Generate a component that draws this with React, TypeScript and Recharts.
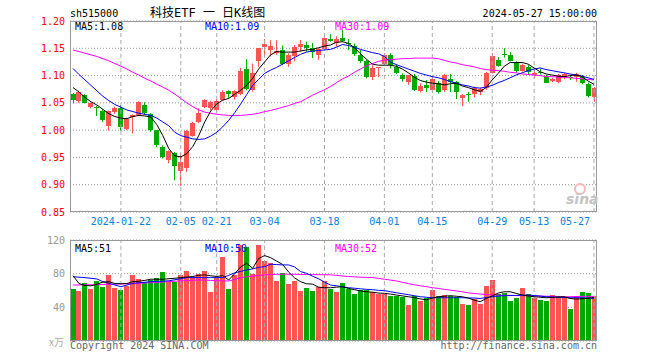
import React from "react";
import {
  Bar,
  CartesianGrid,
  ComposedChart,
  Line,
  ReferenceLine,
  XAxis,
  YAxis,
} from "recharts";

const YEAR = "2024";
const RED = "#fa5454";
const GREEN = "#00a800";
const FONT = "'DejaVu Sans Mono', monospace";

const days = [
  "01-10", "01-11", "01-12", "01-15", "01-16", "01-17", "01-18", "01-19",
  "01-22", "01-23", "01-24", "01-25", "01-26",
  "01-29", "01-30", "01-31", "02-01", "02-02",
  "02-05", "02-06", "02-07", "02-08",
  "02-19", "02-20",
  "02-21", "02-22", "02-23",
  "02-26", "02-27", "02-28", "02-29", "03-01",
  "03-04", "03-05", "03-06", "03-07", "03-08",
  "03-11", "03-12", "03-13", "03-14", "03-15",
  "03-18", "03-19", "03-20", "03-21", "03-22",
  "03-25", "03-26", "03-27", "03-28", "03-29",
  "04-01", "04-02", "04-03",
  "04-08", "04-09", "04-10", "04-11", "04-12",
  "04-15", "04-16", "04-17", "04-18", "04-19",
  "04-22", "04-23", "04-24", "04-25", "04-26",
  "04-29", "04-30",
  "05-06", "05-07", "05-08", "05-09", "05-10",
  "05-13", "05-14", "05-15", "05-16", "05-17",
  "05-20", "05-21", "05-22", "05-23", "05-24",
  "05-27",
];

const open = [
  1.066, 1.054, 1.064, 1.043, 1.042, 1.035, 1.007, 1.034, 1.040, 1.002,
  1.024, 1.028, 1.046, 1.029, 1.000, 0.970, 0.946, 0.959, 0.925, 0.931,
  0.990, 1.015, 1.043, 1.041, 1.037, 1.055, 1.071, 1.060, 1.066, 1.112,
  1.074, 1.126, 1.153, 1.147, 1.142, 1.147, 1.122, 1.135, 1.153, 1.156,
  1.150, 1.138, 1.148, 1.167, 1.160, 1.168, 1.160, 1.154, 1.138, 1.127,
  1.097, 1.113, 1.122, 1.138, 1.116, 1.101, 1.089, 1.100, 1.072, 1.083,
  1.073, 1.087, 1.073, 1.093, 1.089, 1.058, 1.066, 1.066, 1.070, 1.077,
  1.105, 1.129, 1.139, 1.138, 1.124, 1.109, 1.116, 1.101, 1.107, 1.098,
  1.090, 1.089, 1.097, 1.098, 1.097, 1.098, 1.085, 1.060,
];
const high = [
  1.068, 1.072, 1.066, 1.051, 1.044, 1.038, 1.036, 1.043, 1.046, 1.023,
  1.029, 1.053, 1.051, 1.031, 1.000, 0.972, 0.963, 0.960, 0.957, 1.000,
  1.015, 1.040, 1.057, 1.054, 1.057, 1.073, 1.073, 1.073, 1.114, 1.130,
  1.122, 1.150, 1.167, 1.165, 1.165, 1.155, 1.141, 1.156, 1.165, 1.162,
  1.160, 1.150, 1.170, 1.176, 1.172, 1.184, 1.167, 1.159, 1.147, 1.129,
  1.119, 1.115, 1.141, 1.141, 1.121, 1.104, 1.101, 1.103, 1.086, 1.092,
  1.101, 1.090, 1.103, 1.103, 1.090, 1.066, 1.070, 1.080, 1.078, 1.107,
  1.141, 1.134, 1.150, 1.143, 1.126, 1.122, 1.119, 1.110, 1.113, 1.101,
  1.096, 1.103, 1.105, 1.101, 1.105, 1.101, 1.087, 1.079,
];
const low = [
  1.049, 1.050, 1.049, 1.040, 1.026, 1.015, 0.999, 1.030, 0.999, 1.000,
  0.994, 1.026, 1.028, 0.997, 0.969, 0.948, 0.939, 0.908, 0.898, 0.923,
  0.988, 1.013, 1.040, 1.036, 1.035, 1.053, 1.058, 1.056, 1.064, 1.073,
  1.071, 1.116, 1.135, 1.135, 1.138, 1.119, 1.116, 1.126, 1.144, 1.144,
  1.132, 1.129, 1.147, 1.162, 1.153, 1.162, 1.147, 1.136, 1.123, 1.095,
  1.092, 1.097, 1.119, 1.113, 1.103, 1.089, 1.083, 1.072, 1.069, 1.070,
  1.069, 1.067, 1.070, 1.070, 1.057, 1.044, 1.052, 1.060, 1.064, 1.074,
  1.104, 1.116, 1.133, 1.126, 1.105, 1.107, 1.101, 1.095, 1.102, 1.086,
  1.088, 1.086, 1.093, 1.092, 1.089, 1.084, 1.060, 1.052,
];
const close = [
  1.055, 1.070, 1.050, 1.050, 1.041, 1.019, 1.035, 1.040, 1.006, 1.021,
  1.028, 1.051, 1.031, 1.000, 0.972, 0.950, 0.962, 0.934, 0.942, 0.999,
  1.013, 1.032, 1.055, 1.051, 1.053, 1.070, 1.067, 1.071, 1.109, 1.075,
  1.105, 1.150, 1.157, 1.155, 1.145, 1.121, 1.138, 1.153, 1.158, 1.150,
  1.144, 1.148, 1.168, 1.164, 1.167, 1.163, 1.158, 1.140, 1.126, 1.097,
  1.113, 1.115, 1.138, 1.119, 1.105, 1.093, 1.101, 1.073, 1.081, 1.077,
  1.093, 1.070, 1.101, 1.089, 1.069, 1.064, 1.064, 1.077, 1.075, 1.105,
  1.135, 1.118, 1.138, 1.127, 1.108, 1.119, 1.107, 1.104, 1.104, 1.087,
  1.094, 1.101, 1.103, 1.095, 1.103, 1.086, 1.062, 1.077,
];

const ma5 = [
  1.078, 1.070, 1.060, 1.052, 1.046, 1.038, 1.030, 1.025, 1.022, 1.021,
  1.025, 1.027, 1.026, 1.024, 1.010, 0.990, 0.966, 0.953, 0.951, 0.957,
  0.970, 0.990, 1.015, 1.035, 1.048, 1.055, 1.058, 1.066, 1.073, 1.082,
  1.095, 1.112, 1.125, 1.138, 1.144, 1.143, 1.143, 1.143, 1.145, 1.147,
  1.148, 1.151, 1.154, 1.156, 1.161, 1.162, 1.159, 1.151, 1.140, 1.130,
  1.121, 1.119, 1.119, 1.119, 1.117, 1.112, 1.105, 1.097, 1.091, 1.088,
  1.086, 1.085, 1.083, 1.085, 1.086, 1.081, 1.078, 1.074, 1.071, 1.078,
  1.092, 1.104, 1.117, 1.124, 1.124, 1.124, 1.121, 1.114, 1.107, 1.103,
  1.101, 1.099, 1.098, 1.100, 1.101, 1.098, 1.090, 1.084,
];
const ma10 = [
  1.113, 1.102, 1.092, 1.082, 1.072, 1.062, 1.054, 1.047, 1.042, 1.037,
  1.034, 1.031, 1.029, 1.027, 1.022, 1.015, 1.008, 0.996, 0.990, 0.987,
  0.984, 0.983, 0.984, 0.989, 0.996, 1.006, 1.018, 1.032, 1.048, 1.065,
  1.082, 1.093, 1.104, 1.110, 1.115, 1.121, 1.127, 1.133, 1.139, 1.143,
  1.145, 1.146, 1.147, 1.148, 1.152, 1.157, 1.155, 1.152, 1.148, 1.145,
  1.142, 1.140, 1.135, 1.125, 1.120, 1.116, 1.112, 1.108, 1.104, 1.101,
  1.098, 1.096, 1.093, 1.089, 1.086, 1.083, 1.081, 1.078, 1.077, 1.079,
  1.082, 1.087, 1.091, 1.096, 1.101, 1.105, 1.109, 1.112, 1.114, 1.111,
  1.109, 1.107, 1.105, 1.103, 1.101, 1.099, 1.096, 1.093,
];
const ma30 = [
  1.147, 1.144, 1.141, 1.138, 1.135, 1.131, 1.127, 1.122, 1.117, 1.112,
  1.106, 1.101, 1.095, 1.090, 1.084, 1.079, 1.073, 1.066, 1.058, 1.050,
  1.043, 1.037, 1.033, 1.031, 1.029, 1.028, 1.027, 1.027, 1.027, 1.028,
  1.029, 1.031, 1.034, 1.036, 1.039, 1.042, 1.045, 1.049, 1.052, 1.058,
  1.064, 1.069, 1.074, 1.080, 1.087, 1.094, 1.099, 1.106, 1.112, 1.118,
  1.122, 1.126, 1.128, 1.129, 1.130, 1.131, 1.131, 1.132, 1.132, 1.132,
  1.132, 1.131, 1.128, 1.125, 1.123, 1.120, 1.118, 1.116, 1.113, 1.111,
  1.110, 1.109, 1.108, 1.106, 1.105, 1.103, 1.102, 1.101, 1.100, 1.098,
  1.098, 1.097, 1.097, 1.096, 1.095, 1.094, 1.093, 1.092,
];

// 成交量 (万手)
const volume = [
  61.7, 59.3, 68.9, 61.7, 71.3, 64.1, 78.4, 62.9, 60.5, 65.3,
  78.4, 73.7, 69.7, 72.5, 74.5, 82.0, 70.5, 70.5, 78.4, 83.2,
  76.4, 79.6, 83.2, 58.1, 74.5, 99.9, 61.7, 78.4, 114.3, 111.1,
  79.6, 114.3, 95.2, 92.4, 71.3, 80.8, 67.7, 71.3, 59.3, 62.9,
  59.3, 64.1, 71.3, 61.7, 58.1, 68.9, 61.7, 55.8, 60.5, 60.5,
  58.1, 55.8, 55.8, 53.4, 53.4, 52.2, 42.6, 53.4, 47.4, 51.0,
  60.5, 53.4, 54.6, 53.4, 52.2, 43.8, 42.6, 49.8, 43.8, 65.3,
  72.5, 55.8, 57.0, 47.4, 51.0, 62.9, 55.8, 51.0, 48.6, 47.4,
  54.6, 53.4, 52.2, 37.8, 53.4, 58.1, 57.0, 53.4,
];
const volMa5 = [
  77.6, 68.3, 66.0, 65.5, 67.5, 70.0, 70.5, 68.3, 68.0, 68.3,
  70.6, 71.0, 72.0, 73.4, 73.4, 73.3, 74.0, 74.5, 75.3, 76.0,
  76.6, 78.0, 78.6, 77.5, 76.6, 77.6, 72.5, 80.0, 88.0, 92.4,
  86.4, 98.0, 101.5, 99.0, 95.0, 91.0, 82.0, 75.0, 70.5, 68.0,
  67.6, 64.0, 63.3, 63.3, 64.0, 64.5, 62.4, 61.0, 59.5, 58.5,
  58.0, 57.0, 56.6, 55.8, 54.6, 53.6, 52.6, 51.5, 50.0, 49.0,
  51.0, 52.6, 53.2, 53.8, 53.2, 52.6, 51.0, 48.6, 46.6, 50.6,
  53.5, 57.0, 58.5, 58.5, 56.6, 54.6, 53.6, 52.6, 52.0, 51.3,
  51.8, 52.2, 52.6, 50.5, 49.8, 50.2, 50.6, 51.6,
];
const volMa10 = [
  76.4, 75.8, 75.3, 74.5, 73.7, 70.5, 68.5, 66.5, 64.5, 66.5,
  68.5, 69.2, 69.8, 70.5, 70.8, 71.1, 71.5, 72.8, 74.0, 75.3,
  75.3, 75.3, 75.3, 75.3, 75.3, 75.3, 78.0, 81.0, 82.7, 84.4,
  85.7, 87.5, 88.4, 91.2, 90.8, 90.4, 90.4, 88.0, 82.5, 80.4,
  77.0, 74.0, 70.0, 66.5, 65.5, 64.5, 63.3, 62.7, 62.0, 61.4,
  61.0, 60.2, 59.8, 58.6, 57.4, 56.2, 55.0, 53.8, 52.6, 52.0,
  51.4, 51.4, 51.4, 51.4, 51.4, 51.4, 51.2, 51.0, 50.6, 51.6,
  52.6, 53.4, 53.8, 54.0, 54.2, 54.4, 54.6, 54.0, 53.4, 52.6,
  52.3, 52.0, 51.7, 51.4, 51.4, 51.2, 51.0, 50.8,
];
const volMa30 = [
  66.5, 66.6, 66.7, 66.8, 66.9, 67.2, 67.4, 67.6, 67.8, 68.0,
  68.3, 68.6, 68.9, 69.2, 69.5, 70.0, 70.6, 71.0, 71.4, 71.8,
  72.2, 72.5, 72.3, 72.0, 71.6, 71.4, 71.3, 73.2, 75.3, 76.2,
  77.0, 77.8, 78.6, 79.0, 79.2, 79.4, 79.4, 79.3, 79.1, 79.0,
  78.9, 78.8, 78.7, 78.6, 78.0, 77.2, 76.6, 76.2, 75.8, 75.6,
  75.4, 74.4, 73.4, 72.4, 71.4, 69.8, 68.2, 66.8, 65.6, 64.6,
  63.4, 62.4, 61.4, 60.5, 59.5, 58.5, 57.2, 56.4, 55.8, 55.2,
  54.7, 54.4, 54.3, 54.2, 54.0, 53.9, 53.8, 53.6, 53.4, 53.2,
  53.0, 52.8, 52.6, 52.6, 52.8, 53.0, 53.2, 52.4,
];

const tickDays = ["01-22", "02-05", "02-21", "03-04", "03-18", "04-01", "04-15", "04-29", "05-13", "05-27"];
const priceTicks = [0.85, 0.9, 0.95, 1.0, 1.05, 1.1, 1.15, 1.2];
const volTicks = [0, 40, 80, 120];

const rows = days.map((d, i) => ({
  d,
  open: open[i],
  high: high[i],
  low: low[i],
  close: close[i],
  range: [low[i], high[i]],
  up: close[i] >= open[i],
  ma5: ma5[i],
  ma10: ma10[i],
  ma30: ma30[i],
  vol: volume[i],
  vma5: volMa5[i],
  vma10: volMa10[i],
  vma30: volMa30[i],
}));

function Candle(props: any) {
  const { x, y, width, height, payload } = props;
  if (x == null || y == null) return null;
  const top = Math.min(y, y + height);
  const h = Math.abs(height);
  const { open: o, close: c, high: hi, low: lo, up } = payload;
  const k = hi > lo ? h / (hi - lo) : 0;
  const color = up ? RED : GREEN;
  const cx = Math.round(x + width / 2);
  const bTop = Math.round(top + (hi - Math.max(o, c)) * k);
  const bBot = Math.round(top + (hi - Math.min(o, c)) * k);
  return (
    <g>
      <line x1={cx + 0.5} x2={cx + 0.5} y1={top} y2={top + h} stroke={color} strokeWidth={1} />
      <rect x={cx - 2} y={bTop} width={5} height={Math.max(1, bBot - bTop)} fill={color} />
    </g>
  );
}

function VolBar(props: any) {
  const { x, y, width, height, payload } = props;
  if (x == null || y == null) return null;
  const cx = Math.round(x + width / 2);
  const top = Math.round(Math.min(y, y + height));
  const bot = Math.round(Math.max(y, y + height));
  return <rect x={cx - 2} y={top} width={5} height={bot - top} fill={payload.up ? RED : GREEN} />;
}

// the last date label is pulled inside the frame, as on the original
function DateTick(props: any) {
  const { x, y, payload } = props;
  const d = payload.value as string;
  const last = d === tickDays[tickDays.length - 1];
  return (
    <text
      x={last ? x - 4 : x}
      y={y}
      dy="0.71em"
      textAnchor={last ? "end" : "middle"}
      fill="#0a80d8"
      fontSize={10}
      fontFamily={FONT}
    >
      {d === tickDays[0] ? `${YEAR}-${d}` : d}
    </text>
  );
}

export default function App() {
  return (
    <div style={{ position: "fixed", left: 0, top: 0, width: 660, height: 360, background: "#fff" }}>
      <div style={{ position: "absolute", left: 0, top: 0 }}>
        <ComposedChart width={660} height={232} data={rows} margin={{ top: 21, right: 63, left: 0, bottom: 0 }}>
          <CartesianGrid vertical={false} stroke="#999" strokeDasharray="1 2" />
          {tickDays.map((d) => (
            <ReferenceLine key={d} x={d} stroke="#aaa" strokeDasharray="4 3" />
          ))}
          <XAxis
            dataKey="d"
            ticks={tickDays}
            interval={0}
            tickSize={0}
            tickMargin={6}
            height={20}
            axisLine={false}
            tick={<DateTick />}
          />
          <YAxis
            domain={[0.85, 1.2]}
            ticks={priceTicks}
            allowDataOverflow
            width={70}
            tickSize={0}
            tickMargin={5}
            axisLine={false}
            tickFormatter={(v) => Number(v).toFixed(2)}
            tick={{ fill: "#f00", fontSize: 10, fontFamily: FONT }}
          />
          <Bar dataKey="range" barSize={5} shape={<Candle />} isAnimationActive={false} />
          <Line dataKey="ma30" stroke="#ff00ff" strokeWidth={1} dot={false} isAnimationActive={false} />
          <Line dataKey="ma10" stroke="#0000ff" strokeWidth={1} dot={false} isAnimationActive={false} />
          <Line dataKey="ma5" stroke="#000" strokeWidth={1} dot={false} isAnimationActive={false} />
        </ComposedChart>
      </div>
      <div style={{ position: "absolute", left: 0, top: 230 }}>
        <ComposedChart width={660} height={130} data={rows} margin={{ top: 10, right: 63, left: 0, bottom: 19 }}>
          <CartesianGrid vertical={false} stroke="#999" strokeDasharray="1 2" />
          {tickDays.map((d) => (
            <ReferenceLine key={d} x={d} stroke="#aaa" strokeDasharray="4 3" />
          ))}
          <XAxis dataKey="d" hide />
          <YAxis
            domain={[0, 120]}
            ticks={volTicks}
            allowDataOverflow
            width={70}
            tickSize={0}
            tickMargin={5}
            axisLine={false}
            tickFormatter={(v) => (v === 0 ? "" : String(v))}
            tick={{ fill: "#999", fontSize: 10, fontFamily: FONT }}
          />
          <Bar dataKey="vol" barSize={5} shape={<VolBar />} isAnimationActive={false} />
          <Line dataKey="vma30" stroke="#ff00ff" strokeWidth={1} dot={false} isAnimationActive={false} />
          <Line dataKey="vma10" stroke="#0000ff" strokeWidth={1} dot={false} isAnimationActive={false} />
          <Line dataKey="vma5" stroke="#000" strokeWidth={1} dot={false} isAnimationActive={false} />
        </ComposedChart>
      </div>
      <svg
        width={660}
        height={360}
        style={{ position: "absolute", left: 0, top: 0, pointerEvents: "none" }}
        fontFamily={FONT}
        fontSize={10}
      >
        <rect x={70.5} y={21.5} width={526} height={190} fill="none" stroke="#999" />
        <rect x={70.5} y={240.5} width={526} height={100} fill="none" stroke="#999" />

        <text x={70} y={16.5} fill="#000">sh515000</text>
        <text x={150} y={17} fill="#000" fontSize={12} fontFamily="'DejaVu Sans Mono', 'Noto Sans CJK SC', monospace">
          科技ETF 一 日K线图
        </text>
        <text x={597} y={16.5} fill="#000" textAnchor="end">2024-05-27 15:00:00</text>

        <text x={75} y={29.5} fill="#000">MA5:1.08</text>
        <text x={205} y={29.5} fill="#0000ff">MA10:1.09</text>
        <text x={335} y={29.5} fill="#ff00ff">MA30:1.09</text>

        <text x={75} y={251.5} fill="#000">MA5:51</text>
        <text x={205} y={251.5} fill="#0000ff">MA10:50</text>
        <text x={335} y={251.5} fill="#ff00ff">MA30:52</text>

        <text x={49} y={346} fill="#aaa" fontFamily="'Noto Sans CJK SC', sans-serif" fontSize={10}>x万</text>
        <text x={70} y={349} fill="#666">Copyright 2024 SINA.COM</text>
        <text x={597} y={349} fill="#666" textAnchor="end">http://finance.sina.com.cn</text>

        <circle cx={580} cy={189} r={5} fill="none" stroke="#f6b8b8" strokeWidth={2} />
        <text x={566} y={204} fill="#c4c4c4" fontSize={14} fontStyle="italic" fontWeight="bold" fontFamily="'DejaVu Sans', sans-serif">
          sina
        </text>
      </svg>
    </div>
  );
}
